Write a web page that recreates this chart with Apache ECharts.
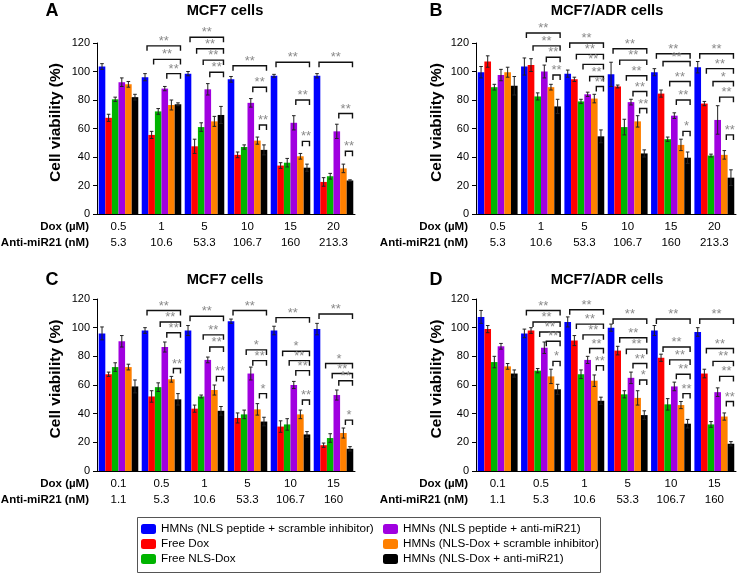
<!DOCTYPE html>
<html>
<head>
<meta charset="utf-8">
<script src="https://cdn.jsdelivr.net/npm/echarts@6/dist/echarts.min.js"></script>
<style>html,body{margin:0;padding:0;background:#fff}#chart{width:738px;height:573px}</style>
</head>
<body>
<div id="chart"></div>
<script>
// ---- categories ----
const doxAB = ['0.5', '1', '5', '10', '15', '20'];
const antiAB = ['5.3', '10.6', '53.3', '106.7', '160', '213.3'];
const doxCD = ['0.1', '0.5', '1', '5', '10', '15'];
const antiCD = ['1.1', '5.3', '10.6', '53.3', '106.7', '160'];
const yTicks = [0, 20, 40, 60, 80, 100, 120];

const seriesNames = [
  'HMNs (NLS peptide + scramble inhibitor)',
  'Free Dox',
  'Free NLS-Dox',
  'HMNs (NLS peptide + anti-miR21)',
  'HMNs (NLS-Dox + scramble inhibitor)',
  'HMNs (NLS-Dox + anti-miR21)'
];
const seriesColors = ['#0000ff', '#ff0000', '#00b400', '#a000e0', '#ff8000', '#000000'];

// ---- values: one row per series (order as seriesNames), one column per category ----
const valuesA = [
  [103.5, 96, 98.5, 94.5, 97, 97],
  [67.5, 55.5, 47.5, 41.5, 34, 22.5],
  [80.5, 72, 61, 47, 36, 26.5],
  [92.5, 88, 87.5, 78, 64, 58],
  [91, 76.5, 65, 51.5, 40.5, 32],
  [82, 77, 69.5, 45, 32.5, 23.5]
];
const errorsA = [
  [2, 2.5, 1.5, 2, 1, 1.5],
  [2.5, 2.5, 5, 2, 2, 3],
  [1.5, 2, 3, 1.5, 3, 2],
  [3, 1.5, 4, 3, 5, 5],
  [2, 3.5, 3.5, 2.5, 2, 3],
  [2, 1, 6, 3.5, 2.5, 0.5]
];
const valuesB = [
  [99.5, 103.5, 98.5, 98, 99.5, 103],
  [107, 104.5, 94.5, 89.5, 84.5, 77.5],
  [89, 82.5, 79, 61, 52.5, 41],
  [97.5, 100, 84, 78.5, 69, 66],
  [99.5, 89, 81, 65, 48.5, 41.5],
  [90, 75.5, 54.5, 42.5, 39.5, 25.5]
];
const errorsB = [
  [4, 6, 2.5, 8.5, 2.5, 4],
  [4, 4.5, 1.5, 1, 2.5, 1.5],
  [2, 2.5, 1.5, 5.5, 1.5, 1],
  [4, 4.5, 1.5, 2, 2, 10],
  [3.5, 2, 3, 4, 4, 3],
  [6.5, 5, 4.5, 2.5, 4, 5.5]
];
const valuesC = [
  [96, 98, 98, 104.5, 98, 99],
  [67.5, 52, 43.5, 37, 31, 18],
  [72.5, 58.5, 52, 39.5, 32.5, 23],
  [90.5, 86.5, 77.5, 68, 60, 53],
  [72.5, 64, 56.5, 43, 39.5, 26.5],
  [59, 50, 42, 34.5, 25.5, 15.5]
];
const errorsC = [
  [4.5, 2, 3.5, 1.5, 3, 4],
  [1.5, 4, 2.5, 3.5, 4, 1.5],
  [3, 3, 1, 3, 4, 3],
  [4, 3.5, 2, 4.5, 2.5, 3.5],
  [2, 2, 3.5, 4, 3, 3.5],
  [4.5, 4, 3, 3, 2, 1.5]
];
const valuesD = [
  [107.5, 96, 104, 100, 98, 97],
  [99, 98, 91, 84, 79, 68],
  [76, 70, 67.5, 53.5, 46.5, 32.5],
  [87, 86, 77.5, 65, 59, 55],
  [73, 66, 63, 51, 46, 38],
  [68, 57, 49, 39, 33, 19]
];
const errorsD = [
  [4.5, 3, 3.5, 2.5, 3.5, 3],
  [2.5, 2, 3.5, 3, 2.5, 3],
  [4, 1.5, 3, 2.5, 4, 2],
  [2, 4, 2.5, 4, 3, 3],
  [2, 5, 4, 5, 2.5, 2.5],
  [2.5, 3.5, 2.5, 3, 3, 1.5]
];

// ---- significance brackets: [category, fromSeries, toSeries, yLevel, stars] ----
const bracketsA = [
  [1,0,5,118,2],[1,1,5,108.5,2],[1,3,5,98.5,2],
  [2,0,5,124,2],[2,1,5,116,2],[2,2,5,108,2],[2,3,5,99.5,2],
  [3,0,5,104,2],[3,3,5,89,2],[3,4,5,62.5,2],
  [4,0,5,106.5,2],[4,3,5,80,2],[4,4,5,51,2],
  [5,0,5,106.5,2],[5,3,5,70.5,2],[5,4,5,44,2]
];
const bracketsB = [
  [1,0,5,127,2],[1,1,5,118,2],[1,3,5,110,2],[1,4,5,97.5,2],
  [2,0,5,120,2],[2,1,5,112,2],[2,2,5,105,2],[2,3,5,96.5,2],[2,4,5,89.5,2],
  [3,0,5,116,2],[3,1,5,108,2],[3,2,5,97,2],[3,3,5,86,2],[3,4,5,74,2],
  [4,0,5,112.5,2],[4,1,5,107,2],[4,2,5,93,2],[4,3,5,80,2],[4,4,5,58,1],
  [5,0,5,112.5,2],[5,1,5,102,2],[5,2,5,93,1],[5,3,5,82,2],[5,4,5,55.5,2]
];
const bracketsC = [
  [1,0,5,112,2],[1,2,5,104,2],[1,3,5,96.5,2],[1,4,5,71.5,2],
  [2,0,5,108,2],[2,2,5,95,2],[2,3,5,86.5,2],[2,4,5,66,2],
  [3,0,5,112,2],[3,2,5,84.5,1],[3,3,5,77,2],[3,4,5,54,1],
  [4,0,5,107,2],[4,1,5,83.5,1],[4,2,5,77,2],[4,3,5,70,2],[4,4,5,49.5,2],
  [5,0,5,109.5,2],[5,1,5,75,1],[5,2,5,68,2],[5,3,5,63,2],[5,4,5,35.5,1]
];
const bracketsD = [
  [1,0,5,112,2],[1,1,5,104,2],[1,2,5,97,2],[1,3,5,90.5,2],[1,4,5,76.5,1],
  [2,0,5,112.5,2],[2,1,5,102.5,2],[2,2,5,95,2],[2,3,5,85.5,2],[2,4,5,73.5,2],
  [3,0,5,106,2],[3,1,5,93,2],[3,2,5,85,2],[3,3,5,75,2],[3,4,5,63.5,1],
  [4,0,5,106,2],[4,1,5,86.5,2],[4,2,5,77.5,2],[4,3,5,67.5,2],[4,4,5,54,2],
  [5,0,5,106,2],[5,1,5,85.5,2],[5,2,5,76.5,2],[5,3,5,66,2],[5,4,5,48.5,2]
];

const FONT = '"Liberation Sans", Arial, Helvetica, sans-serif';
const GAP = 0.08;

const panels = [
  {letter:'A', title:'MCF7 cells', dox:doxAB, anti:antiAB, values:valuesA, errors:errorsA, brackets:bracketsA,
   grid:{left:97, top:43, width:258, height:171}},
  {letter:'B', title:'MCF7/ADR cells', dox:doxAB, anti:antiAB, values:valuesB, errors:errorsB, brackets:bracketsB,
   grid:{left:476, top:43, width:260, height:171}},
  {letter:'C', title:'MCF7 cells', dox:doxCD, anti:antiCD, values:valuesC, errors:errorsC, brackets:bracketsC,
   grid:{left:97, top:299, width:258, height:172}},
  {letter:'D', title:'MCF7/ADR cells', dox:doxCD, anti:antiCD, values:valuesD, errors:errorsD, brackets:bracketsD,
   grid:{left:476, top:299, width:260, height:172}}
];

function barX(api, c, s) {
  const band = api.size([1, 0])[0];
  const group = band * (1 - GAP);
  const bw = group / 6;
  const cx = api.coord([c, 0])[0];
  return cx - group / 2 + bw * (s + 0.5);
}

const series = [];
panels.forEach((p, i) => {
  p.values.forEach((vals, s) => {
    series.push({
      type: 'bar', name: seriesNames[s], xAxisIndex: i, yAxisIndex: i,
      data: vals, itemStyle: { color: seriesColors[s] },
      barGap: '0%', barCategoryGap: (GAP * 100) + '%', silent: true, animation: false
    });
  });
  const errData = [];
  p.values.forEach((vals, s) => vals.forEach((v, c) => errData.push([c, s, v, p.errors[s][c]])));
  series.push({
    type: 'custom', xAxisIndex: i, yAxisIndex: i, data: errData, encode: { x: 0, y: 2 },
    silent: true, animation: false, z: 5, clip: false,
    renderItem: (params, api) => {
      const c = api.value(0), s = api.value(1), v = api.value(2), e = api.value(3);
      const x = barX(api, c, s);
      const yt = api.coord([c, v + e])[1], yb = api.coord([c, v - e])[1];
      const st = { stroke: '#222', lineWidth: 1 };
      return { type: 'group', children: [
        { type: 'line', shape: { x1: x, y1: yt, x2: x, y2: yb }, style: st },
        { type: 'line', shape: { x1: x - 1.8, y1: yt, x2: x + 1.8, y2: yt }, style: st },
        { type: 'line', shape: { x1: x - 1.8, y1: yb, x2: x + 1.8, y2: yb }, style: st }
      ]};
    }
  });
  series.push({
    type: 'custom', xAxisIndex: i, yAxisIndex: i, data: p.brackets, encode: { x: 0, y: 3 },
    silent: true, animation: false, z: 6, clip: false,
    renderItem: (params, api) => {
      const c = api.value(0), f = api.value(1), t = api.value(2), yv = api.value(3), n = api.value(4);
      const xs = barX(api, c, f) + 2, xe = barX(api, c, t) + 2.5;
      const y = api.coord([c, yv])[1];
      return { type: 'group', children: [
        { type: 'polyline', shape: { points: [[xs, y + 5], [xs, y], [xe, y], [xe, y + 5]] },
          style: { stroke: '#111', lineWidth: 1.4, fill: null } },
        { type: 'text', x: (xs + xe) / 2, y: y + 2,
          style: { text: '*'.repeat(n), fill: '#8a8a8a', font: '13px ' + FONT, align: 'center', verticalAlign: 'bottom' } }
      ]};
    }
  });
});

const graphic = [];
panels.forEach((p) => {
  const g = p.grid;
  const isLeft = g.left < 200;
  const letterX = isLeft ? 52 : 436;
  const titleX = isLeft ? 225 : 607;
  const topY = g.top < 100 ? 11 : 280;
  graphic.push({ type: 'text', x: letterX, y: topY, style: { text: p.letter, font: 'bold 18px ' + FONT, fill: '#000', align: 'center', verticalAlign: 'middle' } });
  graphic.push({ type: 'text', x: titleX, y: topY, style: { text: p.title, font: 'bold 14.7px ' + FONT, fill: '#000', align: 'center', verticalAlign: 'middle' } });
  graphic.push({ type: 'text', x: isLeft ? 56 : 437, y: g.top + g.height / 2 - 6, rotation: Math.PI / 2,
    style: { text: 'Cell viability (%)', font: 'bold 15.5px ' + FONT, fill: '#000', align: 'center', verticalAlign: 'middle' } });
  const by = g.top + g.height;
  graphic.push({ type: 'text', x: g.left - 8, y: by + 13, style: { text: 'Dox (µM)', font: 'bold 11.5px ' + FONT, fill: '#000', align: 'right', verticalAlign: 'middle' } });
  graphic.push({ type: 'text', x: g.left - 8, y: by + 29, style: { text: 'Anti-miR21 (nM)', font: 'bold 11.5px ' + FONT, fill: '#000', align: 'right', verticalAlign: 'middle' } });
});
graphic.push({ type: 'rect', shape: { x: 137.5, y: 517.5, width: 463, height: 55 }, style: { fill: 'none', stroke: '#555', lineWidth: 1 } });

const legendBase = {
  orient: 'vertical', top: 523, padding: 0, itemWidth: 15, itemHeight: 10, itemGap: 3, selectedMode: false,
  textStyle: { fontSize: 11.7, lineHeight: 12, color: '#000', fontFamily: FONT },
  itemStyle: { borderWidth: 0 }
};

const option = {
  animation: false,
  textStyle: { fontFamily: FONT },
  grid: panels.map(p => Object.assign({ containLabel: false }, p.grid)),
  xAxis: panels.map((p, i) => ({
    type: 'category', gridIndex: i, data: p.dox,
    axisLine: { lineStyle: { color: '#000', width: 1 } }, axisTick: { show: false },
    axisLabel: { interval: 0, margin: 5, fontSize: 11.5, lineHeight: 16, color: '#000', fontFamily: FONT,
      formatter: (v, idx) => v + '\n' + p.anti[idx] }
  })),
  yAxis: panels.map((p, i) => ({
    type: 'value', gridIndex: i, min: yTicks[0], max: yTicks[yTicks.length - 1], interval: yTicks[1] - yTicks[0],
    axisLine: { show: true, lineStyle: { color: '#000', width: 1 } },
    axisTick: { show: true, length: 4, lineStyle: { color: '#000' } },
    splitLine: { show: false },
    axisLabel: { fontSize: 11, color: '#000', margin: 7, fontFamily: FONT }
  })),
  legend: [
    Object.assign({}, legendBase, { left: 141, data: seriesNames.slice(0, 3) }),
    Object.assign({}, legendBase, { left: 383, data: seriesNames.slice(3) })
  ],
  graphic: graphic,
  series: series
};

const chart = echarts.init(document.getElementById('chart'), null, { renderer: 'canvas' });
chart.setOption(option);
</script>
</body>
</html>
